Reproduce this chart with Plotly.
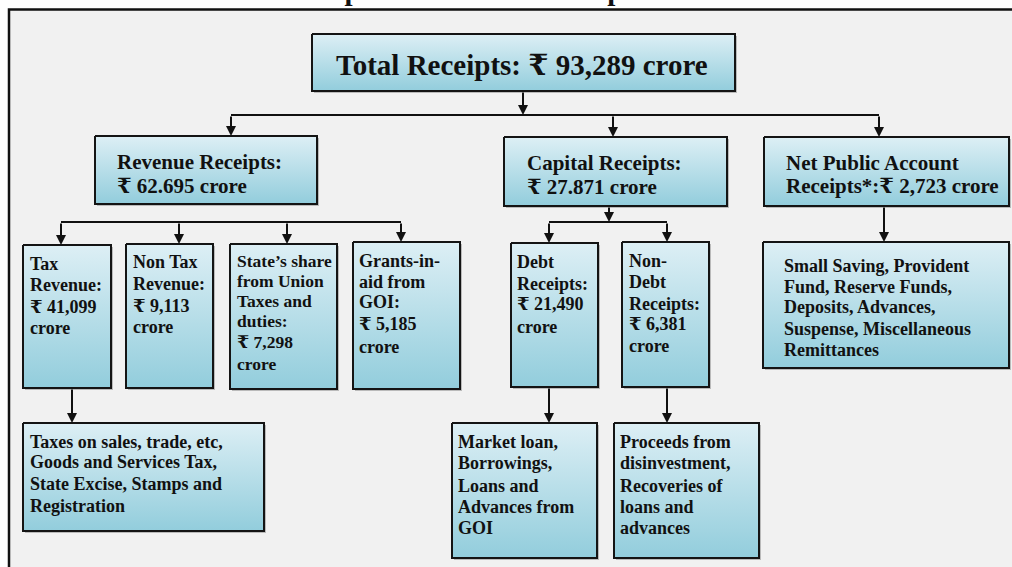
import plotly.graph_objects as go

# ---------------- content (text of each node) ----------------
node_ids = ["total", "revenue", "capital", "npa",
            "tax", "nontax", "share", "grants", "debt", "nondebt",
            "npa_items", "tax_items", "debt_items", "nondebt_items"]

node_lines = [
    ["Total Receipts: ₹ 93,289 crore"],
    ["Revenue Receipts:", "₹ 62.695 crore"],
    ["Capital Receipts:", "₹ 27.871 crore"],
    ["Net Public Account", "Receipts*:₹ 2,723 crore"],
    ["Tax", "Revenue:", "₹ 41,099", "crore"],
    ["Non Tax", "Revenue:", "₹ 9,113", "crore"],
    ["State’s share", "from Union", "Taxes and", "duties:", "₹ 7,298", "crore"],
    ["Grants-in-", "aid from", "GOI:", "₹ 5,185", "crore"],
    ["Debt", "Receipts:", "₹ 21,490", "crore"],
    ["Non-", "Debt", "Receipts:", "₹ 6,381", "crore"],
    ["Small Saving, Provident", "Fund, Reserve Funds,", "Deposits, Advances,",
     "Suspense, Miscellaneous", "Remittances"],
    ["Taxes on sales, trade, etc,", "Goods and Services Tax,",
     "State Excise, Stamps and", "Registration"],
    ["Market loan,", "Borrowings,", "Loans and", "Advances from", "GOI"],
    ["Proceeds from", "disinvestment,", "Recoveries of", "loans and", "advances"],
]

title_text = "Components and sub-components of resources"

# ---------------- layout geometry (pixels) ----------------
box_geom = {  # x0, x1, y0, y1
    "total": (312, 735, 34, 91),
    "revenue": (95, 317, 136, 204),
    "capital": (504, 727, 137, 206),
    "npa": (764, 1009, 137, 206),
    "tax": (23, 111, 245, 388),
    "nontax": (126, 213, 244, 388),
    "share": (230, 337, 244, 389),
    "grants": (353, 460, 242, 389),
    "debt": (511, 598, 243, 387),
    "nondebt": (622, 709, 242, 387),
    "npa_items": (763, 1009, 242, 368),
    "tax_items": (23, 264, 423, 531),
    "debt_items": (452, 597, 423, 558),
    "nondebt_items": (614, 759, 423, 558),
}

text_geom = {  # text x, font size, baselines
    "total": (522, 29, [75]),
    "revenue": (116, 21, [169, 193]),
    "capital": (526, 21, [170, 194]),
    "npa": (785, 21, [170, 193]),
    "tax": (29, 18, [270, 291, 313, 334]),
    "nontax": (132, 18, [268, 290, 312, 333]),
    "share": (236, 17.5, [267, 287, 307, 327, 348, 370]),
    "grants": (358, 18, [267, 288, 308, 330, 353]),
    "debt": (516, 18, [268, 290, 310, 333]),
    "nondebt": (628, 18, [267, 288, 310, 330, 352]),
    "npa_items": (783, 18, [272, 293, 313, 335, 356]),
    "tax_items": (29, 18, [448, 468, 490, 512]),
    "debt_items": (457, 18, [448, 469, 492, 513, 534]),
    "nondebt_items": (619, 18, [448, 469, 492, 513, 534]),
}

# connectors: horizontal bars (y, x0, x1) and arrows (x, y_from, y_to)
hbars = [(115, 231, 879), (222, 61, 401), (222, 549, 667)]
arrows = [(523, 91, 115),
          (231, 115, 136), (613, 115, 137), (879, 115, 137),
          (61, 222, 245), (179, 222, 244), (287, 222, 244), (401, 222, 242),
          (609, 206, 222), (549, 222, 243), (667, 222, 242),
          (884, 206, 242),
          (72, 388, 423), (549, 387, 423), (667, 387, 423)]

W, H = 1012, 567
FONT = "Liberation Serif, Times New Roman, DejaVu Serif, serif"
GRAD = [[0, "#92cddc"], [1, "#ddeff5"]]

fig = go.Figure()

# boxes
for nid in node_ids:
    x0, x1, y0, y1 = box_geom[nid]
    fig.add_trace(go.Scatter(
        x=[x0 + 2, x1 + 2, x1 + 2, x0 + 2, x0 + 2],
        y=[y0 + 2, y0 + 2, y1 + 2, y1 + 2, y0 + 2],
        mode="lines", fill="toself", fillcolor="rgba(120,120,120,0.45)",
        line=dict(width=0), hoverinfo="skip", showlegend=False))
    fig.add_trace(go.Scatter(
        x=[x0, x1, x1, x0, x0], y=[y0, y0, y1, y1, y0],
        mode="lines", fill="toself",
        fillgradient=dict(type="vertical", colorscale=GRAD),
        line=dict(color="#141414", width=2), hoverinfo="skip", showlegend=False))

annotations = []
for nid, lines in zip(node_ids, node_lines):
    tx, fs, baselines = text_geom[nid]
    for line, b in zip(lines, baselines):
        annotations.append(dict(
            x=tx, y=b - 0.34 * fs, xref="x", yref="y", text=line,
            showarrow=False, xanchor="center" if nid == "total" else "left",
            yanchor="middle", borderpad=0,
            font=dict(family=FONT, size=fs, color="#111111", weight="bold")))

for (x, ya, yb) in arrows:
    annotations.append(dict(
        x=x, y=yb, ax=x, ay=ya, xref="x", yref="y", axref="x", ayref="y",
        text="", showarrow=True, arrowhead=2, arrowsize=1, arrowwidth=2,
        arrowcolor="#111111", standoff=0, startstandoff=0))

# (mostly cropped) chart title at the very top, as in the source image
annotations.append(dict(
    x=284 / W, y=1 + 10 / H, xref="paper", yref="paper", text=title_text,
    showarrow=False, xanchor="left", yanchor="middle", borderpad=0,
    font=dict(family=FONT, size=29, color="#111111", weight="bold")))

shapes = [dict(type="rect", xref="x", yref="y", x0=9, x1=1100, y0=9.5, y1=700,
               fillcolor="#f1f1f1", line=dict(color="#111111", width=2.5),
               layer="below")]
for (y, xa, xb) in hbars:
    shapes.append(dict(type="line", xref="x", yref="y", x0=xa, x1=xb, y0=y, y1=y,
                       line=dict(color="#111111", width=2)))

fig.update_layout(
    width=W, height=H, margin=dict(l=0, r=0, t=0, b=0),
    paper_bgcolor="white", plot_bgcolor="white",
    xaxis=dict(range=[0, W], visible=False, fixedrange=True),
    yaxis=dict(range=[H, 0], visible=False, fixedrange=True),
    shapes=shapes, annotations=annotations, showlegend=False)

fig.write_html("out.html", config={"displayModeBar": False},
               post_script="document.body.style.margin='0px';"
                           "document.body.style.overflow='hidden';")
